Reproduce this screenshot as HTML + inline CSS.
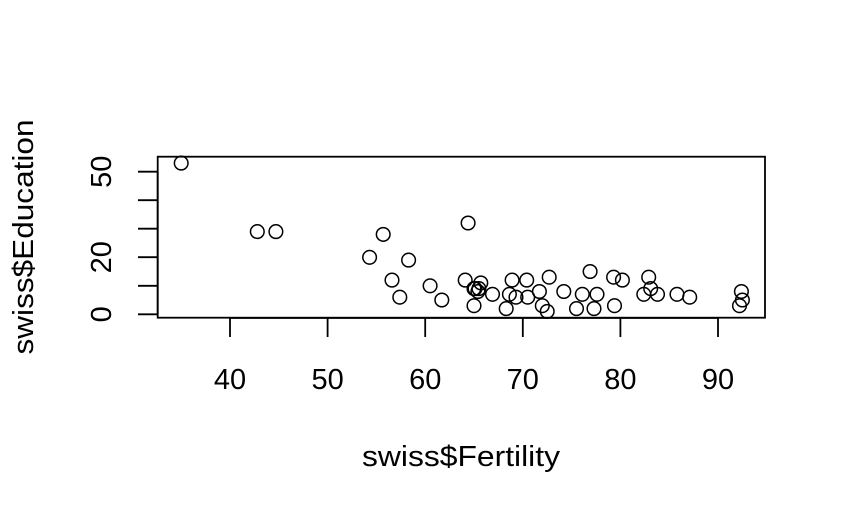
<!DOCTYPE html><html><head><style>body{margin:0;background:#fff}svg{display:block}</style></head><body>
<svg width="846" height="514" xmlns="http://www.w3.org/2000/svg" font-family="Liberation Sans, sans-serif">
<rect width="846" height="514" fill="#fff"/>
<rect x="157.7" y="156.7" width="607.3" height="161" fill="none" stroke="#000" stroke-width="1.8"/>
<g stroke="#000" stroke-width="1.8">
<line x1="230" y1="318" x2="718" y2="318"/>
<line x1="230" y1="318" x2="230" y2="337"/><line x1="327.6" y1="318" x2="327.6" y2="337"/><line x1="425.2" y1="318" x2="425.2" y2="337"/><line x1="522.8" y1="318" x2="522.8" y2="337"/><line x1="620.4" y1="318" x2="620.4" y2="337"/><line x1="718" y1="318" x2="718" y2="337"/>
<line x1="157.7" y1="314.3" x2="157.7" y2="171.7"/>
<line x1="138" y1="314.3" x2="157.7" y2="314.3"/><line x1="138" y1="285.8" x2="157.7" y2="285.8"/><line x1="138" y1="257.2" x2="157.7" y2="257.2"/><line x1="138" y1="228.7" x2="157.7" y2="228.7"/><line x1="138" y1="200.2" x2="157.7" y2="200.2"/><line x1="138" y1="171.7" x2="157.7" y2="171.7"/>
</g>
<g style="font-size:29px" text-anchor="middle" fill="#000">
<text x="230" y="389">40</text><text x="327.6" y="389">50</text><text x="425.2" y="389">60</text><text x="522.8" y="389">70</text><text x="620.4" y="389">80</text><text x="718" y="389">90</text>
<text transform="translate(111,314.3) rotate(-90)">0</text>
<text transform="translate(111,257.2) rotate(-90)">20</text>
<text transform="translate(111,171.7) rotate(-90)">50</text>
<text x="461" y="466" textLength="198" lengthAdjust="spacingAndGlyphs">swiss$Fertility</text>
<text transform="translate(33,237) rotate(-90)" textLength="235" lengthAdjust="spacingAndGlyphs">swiss$Education</text>
</g>
<g fill="none" stroke="#000" stroke-width="1.5">
<circle cx="622.4" cy="280.1" r="6.8"/><circle cx="650.7" cy="288.6" r="6.8"/><circle cx="742.4" cy="300.0" r="6.8"/><circle cx="677.0" cy="294.3" r="6.8"/>
<circle cx="590.1" cy="271.5" r="6.8"/><circle cx="582.3" cy="294.3" r="6.8"/><circle cx="657.5" cy="294.3" r="6.8"/><circle cx="741.4" cy="291.5" r="6.8"/>
<circle cx="643.8" cy="294.3" r="6.8"/><circle cx="648.7" cy="277.2" r="6.8"/><circle cx="689.7" cy="297.2" r="6.8"/><circle cx="465.2" cy="280.1" r="6.8"/>
<circle cx="492.5" cy="294.3" r="6.8"/><circle cx="512.1" cy="280.1" r="6.8"/><circle cx="441.8" cy="300.0" r="6.8"/><circle cx="506.2" cy="308.6" r="6.8"/>
<circle cx="539.4" cy="291.5" r="6.8"/><circle cx="383.2" cy="234.4" r="6.8"/><circle cx="369.6" cy="257.3" r="6.8"/><circle cx="475.0" cy="288.6" r="6.8"/>
<circle cx="478.9" cy="288.6" r="6.8"/><circle cx="474.0" cy="305.7" r="6.8"/><circle cx="392.0" cy="280.1" r="6.8"/><circle cx="399.8" cy="297.2" r="6.8"/>
<circle cx="547.2" cy="311.4" r="6.8"/><circle cx="563.8" cy="291.5" r="6.8"/><circle cx="542.3" cy="305.7" r="6.8"/><circle cx="430.1" cy="285.8" r="6.8"/>
<circle cx="408.6" cy="260.1" r="6.8"/><circle cx="477.9" cy="291.5" r="6.8"/><circle cx="576.5" cy="308.6" r="6.8"/><circle cx="516.0" cy="297.2" r="6.8"/>
<circle cx="594.0" cy="308.6" r="6.8"/><circle cx="527.7" cy="297.2" r="6.8"/><circle cx="614.5" cy="305.7" r="6.8"/><circle cx="474.0" cy="288.6" r="6.8"/>
<circle cx="739.5" cy="305.7" r="6.8"/><circle cx="613.6" cy="277.2" r="6.8"/><circle cx="526.7" cy="280.1" r="6.8"/><circle cx="480.8" cy="282.9" r="6.8"/>
<circle cx="549.2" cy="277.2" r="6.8"/><circle cx="468.1" cy="223.0" r="6.8"/><circle cx="597.0" cy="294.3" r="6.8"/><circle cx="509.4" cy="294.3" r="6.8"/>
<circle cx="181.2" cy="163.1" r="6.8"/><circle cx="275.9" cy="231.6" r="6.8"/><circle cx="257.3" cy="231.6" r="6.8"/>
</g>
</svg></body></html>
